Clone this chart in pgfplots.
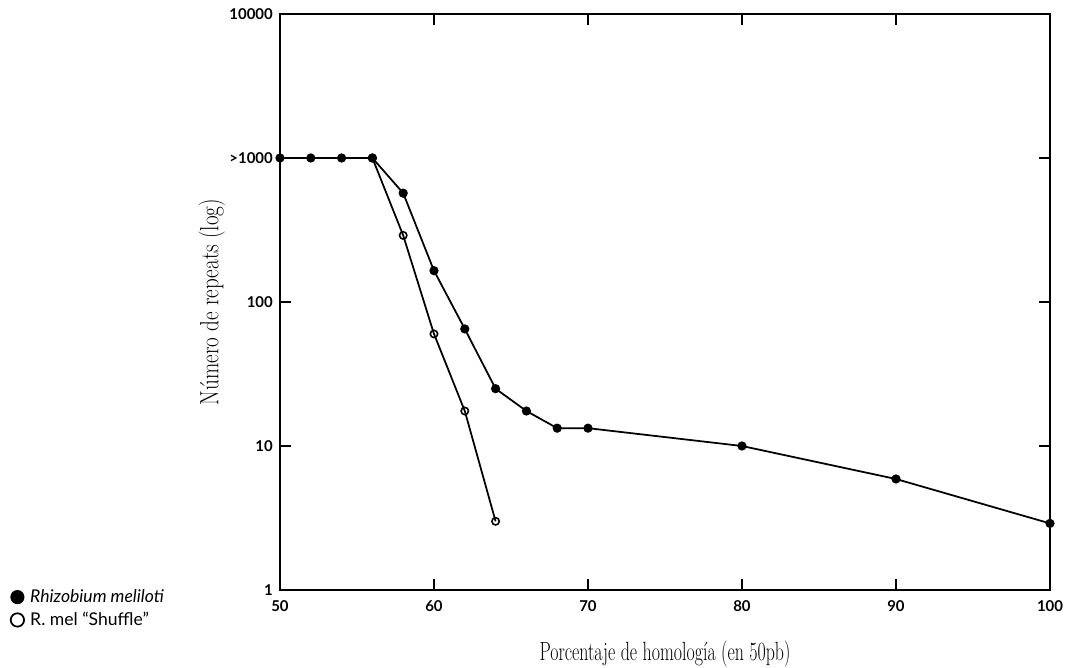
\documentclass[border=0pt]{standalone}
\usepackage{fontspec}
\setsansfont{Lato}
\usepackage{pgfplots}
\pgfplotsset{compat=1.18}

\begin{document}
\begin{tikzpicture}
\begin{axis}[
    scale only axis,
    width=15.4cm, height=11.52cm,
    ymode=log,
    xmin=50, xmax=100,
    ymin=1, ymax=10000,
    xtick={50,60,70,80,90,100},
    ytick={1,10,100,1000,10000},
    yticklabels={1,10,100,>1000,10000},
    yminorticks=false,
    tick align=inside,
    major tick length=0.22cm,
    axis line style={line width=1.3pt},
    tick style={line width=1pt, black},
    tick label style={font=\sffamily\bfseries\fontsize{8.5}{10}\selectfont},
    /pgf/number format/assume math mode=true,
    xticklabel style={yshift=-0.08cm},
    yticklabel style={xshift=-0.02cm},
    xlabel={\scalebox{0.68}[1]{Porcentaje de homología (en 50pb)}},
    ylabel={\scalebox{0.8}[1]{Número de repeats (log)}},
    label style={font=\fontsize{15}{17}\selectfont},
    xlabel style={yshift=-0.34cm},
    ylabel style={yshift=-0.15cm},
    legend style={at={(axis description cs:-0.357,0.014)}, anchor=north west,
        draw=none, fill=none, font=\sffamily\fontsize{10}{12}\selectfont,
        row sep=0pt, nodes={inner xsep=3.5pt}},
    legend cell align=left,
]
\addlegendimage{only marks, mark=*, mark size=3.8pt, black}
\addlegendentry{\textit{Rhizobium meliloti}}
\addlegendimage{only marks, mark=o, mark size=3.8pt, black, line width=1pt}
\addlegendentry{R. mel “Shuffle”}

% Rhizobium meliloti
\addplot[forget plot, black, line width=1pt, mark=*, mark size=2.1pt] coordinates {
    (50,1000) (52,1000) (54,1000) (56,1000) (58,570) (60,165) (62,65)
    (64,25) (66,17.5) (68,13.3) (70,13.3) (80,10) (90,5.9) (100,2.9)
};
% shuffled sequence
\addplot[forget plot, black, line width=1pt, mark=o, mark size=2.1pt,
    mark options={fill=white, line width=0.9pt}] coordinates {
    (56,1000) (58,290) (60,60) (62,17.5) (64,3)
};
\end{axis}
\pgfresetboundingbox
\path (-5.6cm,-1.56cm) rectangle (15.72cm,11.8cm);
\end{tikzpicture}
\end{document}
